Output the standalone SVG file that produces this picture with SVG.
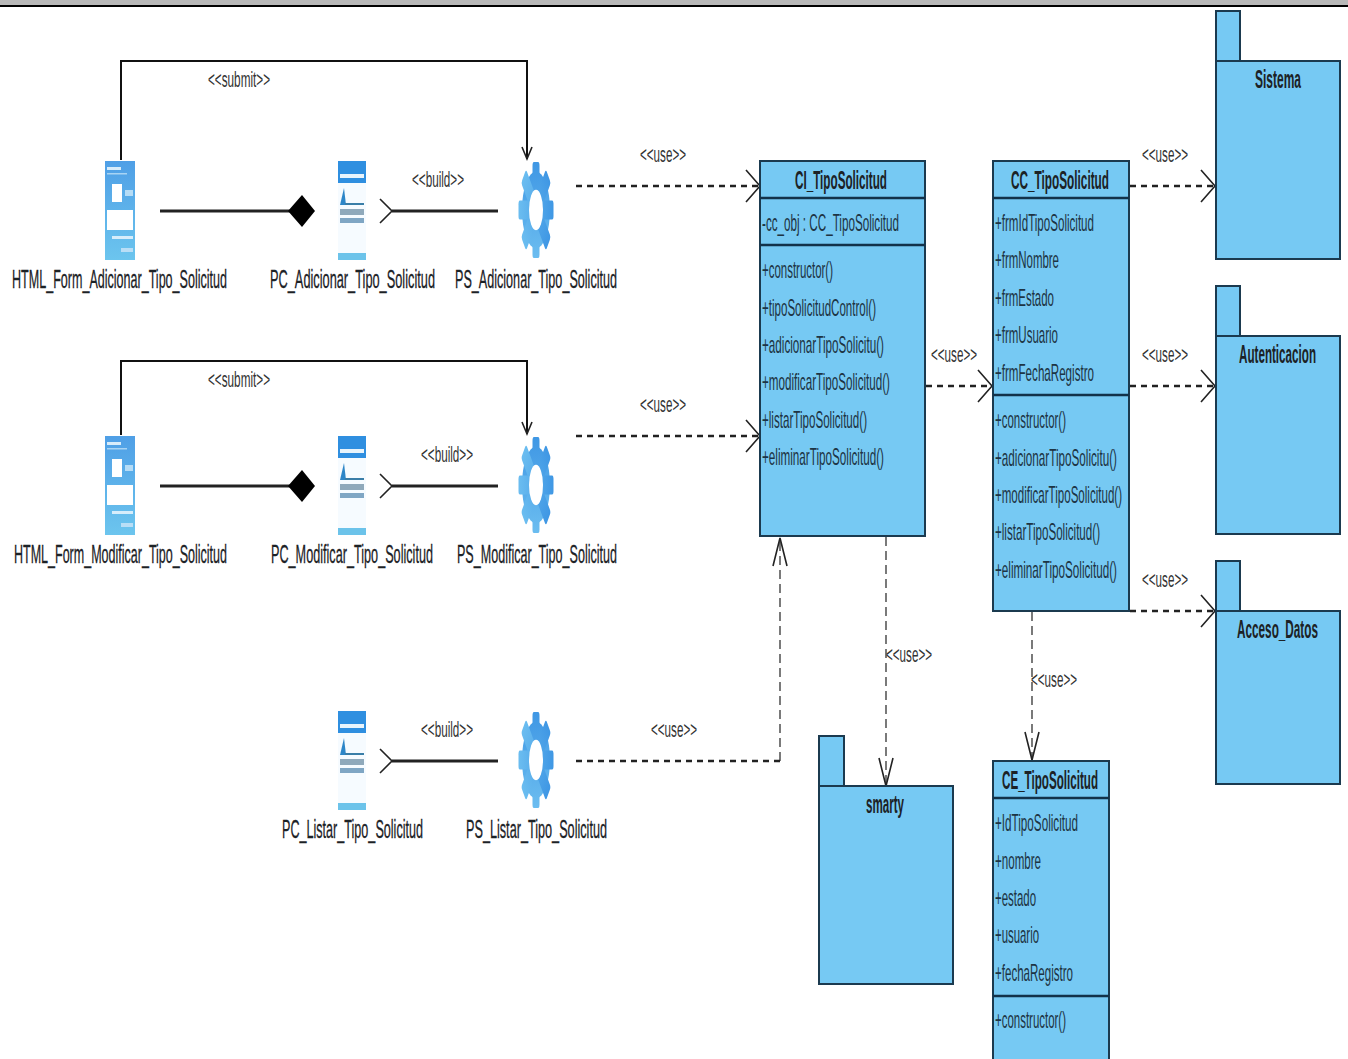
<svg xmlns="http://www.w3.org/2000/svg" xmlns:xlink="http://www.w3.org/1999/xlink" width="1348" height="1059" viewBox="0 0 1348 1059">
<style>
text{font-family:"Liberation Sans",Arial,sans-serif;fill:#1c2226;}
.lbl{font-size:26px;stroke:#1c2226;stroke-width:.3px;}
.hd{font-size:25px;font-weight:bold;}
.m{font-size:24px;fill:#1d3444;}
.st{font-size:22px;fill:#333;}
.box{fill:#76c9f3;stroke:#1b3a4f;stroke-width:2;}
.sep{stroke:#12324a;stroke-width:2.5;fill:none;}
.solid{fill:none;stroke:#111;stroke-width:2;}
.thick{fill:none;stroke:#222;stroke-width:3;}
.dash{fill:none;stroke:#222;stroke-width:2.5;stroke-dasharray:6 5;}
.thin{fill:none;stroke:#222;stroke-width:1.2;stroke-dasharray:9 5;}
.head{fill:none;stroke:#222;stroke-width:1.6;}
</style>
<defs>
<linearGradient id="fg" x1="0" y1="0" x2="0" y2="1"><stop offset="0" stop-color="#4f9fe6"/><stop offset="1" stop-color="#6cc5ee"/></linearGradient>
<linearGradient id="gg" gradientUnits="userSpaceOnUse" x1="0" y1="-1" x2="0" y2="1"><stop offset="0" stop-color="#3f97e4"/><stop offset="1" stop-color="#6bbdf0"/></linearGradient>
<g id="form">
<rect x="105" y="161" width="30" height="99" fill="url(#fg)"/>
<rect x="107" y="167" width="14" height="3" fill="#d8ecfa"/>
<rect x="107" y="173" width="20" height="1.5" fill="#a8d4f4"/>
<rect x="112" y="184" width="10" height="18" fill="#fff"/>
<rect x="125" y="190" width="8" height="6" fill="#b5dcf6"/>
<rect x="107" y="210" width="26" height="20" fill="#fff"/>
<rect x="112" y="236" width="21" height="3" fill="#d6edfb"/>
<rect x="121" y="248" width="12" height="4" fill="#b9def6"/>
</g>
<g id="page">
<rect x="338" y="161" width="28" height="99" fill="#f6fbff"/>
<rect x="338" y="161" width="28" height="22" fill="#2f8fe0"/>
<rect x="340" y="174" width="24" height="4" fill="#e8f4fc"/>
<path d="M340 205 L344 188 L346 205Z" fill="#2d86c8"/>
<rect x="345" y="203" width="19" height="2" fill="#3a7ea8"/>
<rect x="340" y="209" width="24" height="6" fill="#8fa9bb"/>
<rect x="340" y="218" width="24" height="5" fill="#7fa6c4"/>
<rect x="338" y="253" width="28" height="7" fill="#6cc3ea"/>
</g>
<g id="gear">
<g fill="url(#gg)">
<circle r=".8"/>
<g id="t"><rect x="-.2" y="-1" width=".4" height="2" rx=".08"/></g>
<rect x="-.2" y="-1" width=".4" height="2" rx=".08" transform="rotate(45)"/>
<rect x="-.2" y="-1" width=".4" height="2" rx=".08" transform="rotate(90)"/>
<rect x="-.2" y="-1" width=".4" height="2" rx=".08" transform="rotate(135)"/>
</g>
<ellipse rx=".4" ry=".42" fill="#fff"/>
</g>
<marker id="open" markerUnits="userSpaceOnUse" markerWidth="20" markerHeight="36" refX="15" refY="18" orient="auto"><path d="M1 2 L15 18 L1 34" class="head"/></marker>
<marker id="openS" markerUnits="userSpaceOnUse" markerWidth="16" markerHeight="16" refX="13" refY="8" orient="auto"><path d="M1 3 L13 8 L1 13" class="head"/></marker>
<marker id="openB" markerUnits="userSpaceOnUse" markerWidth="16" markerHeight="28" refX="2" refY="14" orient="auto-start-reverse"><path d="M14 2 L2 14 L14 26" class="head"/></marker>
<marker id="openT" markerUnits="userSpaceOnUse" markerWidth="34" markerHeight="20" refX="30" refY="10" orient="auto"><path d="M2 3 L30 10 L2 17" class="head"/></marker>
</defs>
<rect width="1348" height="1059" fill="#fff"/>
<rect x="0" y="0" width="1348" height="5" fill="#b8b8b8"/>
<rect x="0" y="5" width="1348" height="2" fill="#000"/>

<g id="connectors">
<path class="solid" d="M121 160V61H527V159" marker-end="url(#openS)"/>
<path class="solid" d="M121 435V361H527V434" marker-end="url(#openS)"/>
<path class="thick" d="M160 211H292"/>
<path d="M288 211L302 195L315 211L302 227Z" fill="#000"/>
<path class="thick" d="M160 486H292"/>
<path d="M288 486L302 470L315 486L302 502Z" fill="#000"/>
<path class="thick" d="M498 211H392" marker-end="url(#openB)"/>
<path class="thick" d="M498 486H392" marker-end="url(#openB)"/>
<path class="thick" d="M498 761H392" marker-end="url(#openB)"/>
<path class="dash" d="M576 186H760" marker-end="url(#open)"/>
<path class="dash" d="M576 436H760" marker-end="url(#open)"/>
<path class="dash" d="M576 761H780"/>
<path class="thin" d="M780 761V538" marker-end="url(#openT)"/>
<path class="dash" d="M926 386H992" marker-end="url(#open)"/>
<path class="dash" d="M1130 186H1215" marker-end="url(#open)"/>
<path class="dash" d="M1130 386H1215" marker-end="url(#open)"/>
<path class="dash" d="M1130 611H1215" marker-end="url(#open)"/>
<path class="thin" d="M886 537V786" marker-end="url(#openT)"/>
<path class="thin" d="M1032 612V760" marker-end="url(#openT)"/>
<text class="st" x="208" y="87" textLength="62" lengthAdjust="spacingAndGlyphs">&lt;&lt;submit&gt;&gt;</text>
<text class="st" x="208" y="387" textLength="62" lengthAdjust="spacingAndGlyphs">&lt;&lt;submit&gt;&gt;</text>
<text class="st" x="412" y="187" textLength="52" lengthAdjust="spacingAndGlyphs">&lt;&lt;build&gt;&gt;</text>
<text class="st" x="421" y="462" textLength="52" lengthAdjust="spacingAndGlyphs">&lt;&lt;build&gt;&gt;</text>
<text class="st" x="421" y="737" textLength="52" lengthAdjust="spacingAndGlyphs">&lt;&lt;build&gt;&gt;</text>
<text class="st" x="640" y="162" textLength="46" lengthAdjust="spacingAndGlyphs">&lt;&lt;use&gt;&gt;</text>
<text class="st" x="640" y="412" textLength="46" lengthAdjust="spacingAndGlyphs">&lt;&lt;use&gt;&gt;</text>
<text class="st" x="651" y="737" textLength="46" lengthAdjust="spacingAndGlyphs">&lt;&lt;use&gt;&gt;</text>
<text class="st" x="931" y="362" textLength="46" lengthAdjust="spacingAndGlyphs">&lt;&lt;use&gt;&gt;</text>
<text class="st" x="1142" y="162" textLength="46" lengthAdjust="spacingAndGlyphs">&lt;&lt;use&gt;&gt;</text>
<text class="st" x="1142" y="362" textLength="46" lengthAdjust="spacingAndGlyphs">&lt;&lt;use&gt;&gt;</text>
<text class="st" x="1142" y="587" textLength="46" lengthAdjust="spacingAndGlyphs">&lt;&lt;use&gt;&gt;</text>
<text class="st" x="886" y="662" textLength="46" lengthAdjust="spacingAndGlyphs">&lt;&lt;use&gt;&gt;</text>
<text class="st" x="1031" y="687" textLength="46" lengthAdjust="spacingAndGlyphs">&lt;&lt;use&gt;&gt;</text>
</g>

<g id="HTML_Form_Adicionar_Tipo_Solicitud"><use href="#form"/><text class="lbl" x="12" y="288" textLength="215" lengthAdjust="spacingAndGlyphs">HTML_Form_Adicionar_Tipo_Solicitud</text></g>
<g id="PC_Adicionar_Tipo_Solicitud"><use href="#page"/><text class="lbl" x="270" y="288" textLength="165" lengthAdjust="spacingAndGlyphs">PC_Adicionar_Tipo_Solicitud</text></g>
<g id="PS_Adicionar_Tipo_Solicitud"><use href="#gear" transform="translate(536 210) scale(17.5 48)"/><text class="lbl" x="455" y="288" textLength="162" lengthAdjust="spacingAndGlyphs">PS_Adicionar_Tipo_Solicitud</text></g>
<g id="HTML_Form_Modificar_Tipo_Solicitud"><use href="#form" y="275"/><text class="lbl" x="14" y="563" textLength="213" lengthAdjust="spacingAndGlyphs">HTML_Form_Modificar_Tipo_Solicitud</text></g>
<g id="PC_Modificar_Tipo_Solicitud"><use href="#page" y="275"/><text class="lbl" x="271" y="563" textLength="162" lengthAdjust="spacingAndGlyphs">PC_Modificar_Tipo_Solicitud</text></g>
<g id="PS_Modificar_Tipo_Solicitud"><use href="#gear" transform="translate(536 485) scale(17.5 48)"/><text class="lbl" x="457" y="563" textLength="160" lengthAdjust="spacingAndGlyphs">PS_Modificar_Tipo_Solicitud</text></g>
<g id="PC_Listar_Tipo_Solicitud"><use href="#page" y="550"/><text class="lbl" x="282" y="838" textLength="141" lengthAdjust="spacingAndGlyphs">PC_Listar_Tipo_Solicitud</text></g>
<g id="PS_Listar_Tipo_Solicitud"><use href="#gear" transform="translate(536 760) scale(17.5 48)"/><text class="lbl" x="466" y="838" textLength="141" lengthAdjust="spacingAndGlyphs">PS_Listar_Tipo_Solicitud</text></g>

<g id="CI_TipoSolicitud">
<rect class="box" x="760" y="161" width="165" height="375"/>
<path class="sep" d="M760 198H925M760 245H925"/>
<text class="hd" x="795" y="189" textLength="92" lengthAdjust="spacingAndGlyphs">CI_TipoSolicitud</text>
<text class="m" x="762" y="231" textLength="137" lengthAdjust="spacingAndGlyphs">-cc_obj : CC_TipoSolicitud</text>
<text class="m" x="762" y="278" textLength="71" lengthAdjust="spacingAndGlyphs">+constructor()</text>
<text class="m" x="762" y="316" textLength="114" lengthAdjust="spacingAndGlyphs">+tipoSolicitudControl()</text>
<text class="m" x="762" y="353" textLength="122" lengthAdjust="spacingAndGlyphs">+adicionarTipoSolicitu()</text>
<text class="m" x="762" y="390" textLength="128" lengthAdjust="spacingAndGlyphs">+modificarTipoSolicitud()</text>
<text class="m" x="762" y="428" textLength="105" lengthAdjust="spacingAndGlyphs">+listarTipoSolicitud()</text>
<text class="m" x="762" y="465" textLength="122" lengthAdjust="spacingAndGlyphs">+eliminarTipoSolicitud()</text>
</g>
<g id="CC_TipoSolicitud">
<rect class="box" x="993" y="161" width="136" height="450"/>
<path class="sep" d="M993 198H1129M993 395H1129"/>
<text class="hd" x="1011" y="189" textLength="98" lengthAdjust="spacingAndGlyphs">CC_TipoSolicitud</text>
<text class="m" x="995" y="231" textLength="99" lengthAdjust="spacingAndGlyphs">+frmIdTipoSolicitud</text>
<text class="m" x="995" y="268" textLength="64" lengthAdjust="spacingAndGlyphs">+frmNombre</text>
<text class="m" x="995" y="306" textLength="59" lengthAdjust="spacingAndGlyphs">+frmEstado</text>
<text class="m" x="995" y="343" textLength="63" lengthAdjust="spacingAndGlyphs">+frmUsuario</text>
<text class="m" x="995" y="381" textLength="99" lengthAdjust="spacingAndGlyphs">+frmFechaRegistro</text>
<text class="m" x="995" y="428" textLength="71" lengthAdjust="spacingAndGlyphs">+constructor()</text>
<text class="m" x="995" y="466" textLength="122" lengthAdjust="spacingAndGlyphs">+adicionarTipoSolicitu()</text>
<text class="m" x="995" y="503" textLength="127" lengthAdjust="spacingAndGlyphs">+modificarTipoSolicitud()</text>
<text class="m" x="995" y="540" textLength="105" lengthAdjust="spacingAndGlyphs">+listarTipoSolicitud()</text>
<text class="m" x="995" y="578" textLength="122" lengthAdjust="spacingAndGlyphs">+eliminarTipoSolicitud()</text>
</g>
<g id="CE_TipoSolicitud">
<rect class="box" x="993" y="761" width="116" height="310"/>
<path class="sep" d="M993 798H1109M993 996H1109"/>
<text class="hd" x="1002" y="789" textLength="96" lengthAdjust="spacingAndGlyphs">CE_TipoSolicitud</text>
<text class="m" x="995" y="831" textLength="83" lengthAdjust="spacingAndGlyphs">+IdTipoSolicitud</text>
<text class="m" x="995" y="869" textLength="46" lengthAdjust="spacingAndGlyphs">+nombre</text>
<text class="m" x="995" y="906" textLength="41" lengthAdjust="spacingAndGlyphs">+estado</text>
<text class="m" x="995" y="943" textLength="44" lengthAdjust="spacingAndGlyphs">+usuario</text>
<text class="m" x="995" y="981" textLength="78" lengthAdjust="spacingAndGlyphs">+fechaRegistro</text>
<text class="m" x="995" y="1028" textLength="71" lengthAdjust="spacingAndGlyphs">+constructor()</text>
</g>
<g id="Sistema"><rect class="box" x="1216" y="11" width="24" height="50"/><rect class="box" x="1216" y="61" width="124" height="198"/><text class="hd" x="1255" y="88" textLength="46" lengthAdjust="spacingAndGlyphs">Sistema</text></g>
<g id="Autenticacion"><rect class="box" x="1216" y="286" width="24" height="50"/><rect class="box" x="1216" y="336" width="124" height="198"/><text class="hd" x="1239" y="363" textLength="77" lengthAdjust="spacingAndGlyphs">Autenticacion</text></g>
<g id="Acceso_Datos"><rect class="box" x="1216" y="561" width="24" height="50"/><rect class="box" x="1216" y="611" width="124" height="173"/><text class="hd" x="1237" y="638" textLength="81" lengthAdjust="spacingAndGlyphs">Acceso_Datos</text></g>
<g id="smarty"><rect class="box" x="819" y="736" width="25" height="50"/><rect class="box" x="819" y="786" width="134" height="198"/><text class="hd" x="866" y="813" textLength="38" lengthAdjust="spacingAndGlyphs">smarty</text></g>
</svg>
